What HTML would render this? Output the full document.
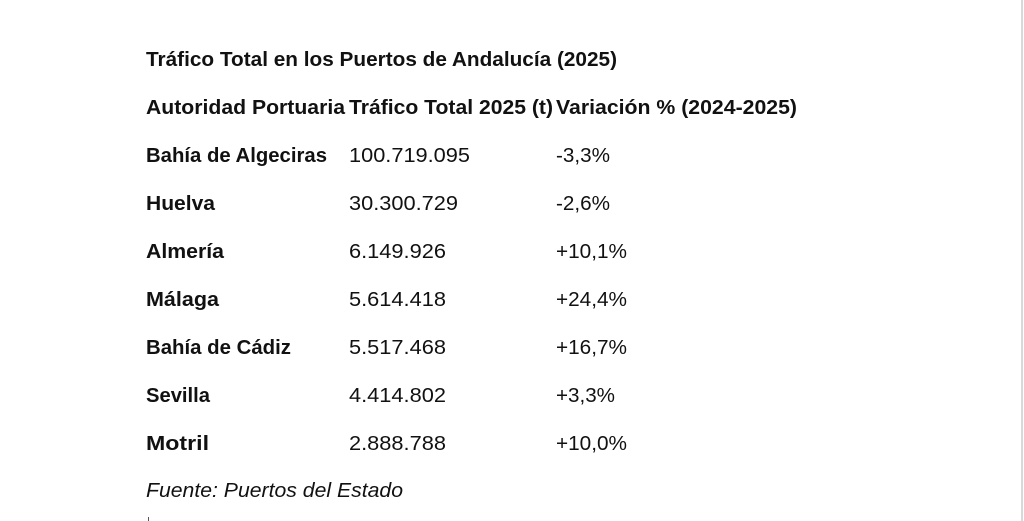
<!DOCTYPE html>
<html><head><meta charset="utf-8"><style>
html,body{margin:0;padding:0;background:#fff;width:1024px;height:521px;overflow:hidden}
svg{display:block}
text{font-family:"Liberation Sans",Arial,sans-serif;font-size:20px;fill:#111}
.b{font-weight:bold}
</style></head><body>
<svg width="1024" height="521" xmlns="http://www.w3.org/2000/svg">
<rect x="1021" y="0" width="2" height="521" fill="#d9d9d9"/>
<g lengthAdjust="spacingAndGlyphs">
<text class="b" x="146" y="66" textLength="471" lengthAdjust="spacingAndGlyphs">Tráfico Total en los Puertos de Andalucía (2025)</text>
<text class="b" x="146" y="114" textLength="199" lengthAdjust="spacingAndGlyphs">Autoridad Portuaria</text>
<text class="b" x="349" y="114" textLength="204" lengthAdjust="spacingAndGlyphs">Tráfico Total 2025 (t)</text>
<text class="b" x="556" y="114" textLength="241" lengthAdjust="spacingAndGlyphs">Variación % (2024-2025)</text>

<text class="b" x="146" y="162" textLength="181" lengthAdjust="spacingAndGlyphs">Bahía de Algeciras</text>
<text x="349" y="162" textLength="121" lengthAdjust="spacingAndGlyphs">100.719.095</text>
<text x="556" y="162" textLength="54" lengthAdjust="spacingAndGlyphs">-3,3%</text>

<text class="b" x="146" y="210" textLength="69" lengthAdjust="spacingAndGlyphs">Huelva</text>
<text x="349" y="210" textLength="109" lengthAdjust="spacingAndGlyphs">30.300.729</text>
<text x="556" y="210" textLength="54" lengthAdjust="spacingAndGlyphs">-2,6%</text>

<text class="b" x="146" y="258" textLength="78" lengthAdjust="spacingAndGlyphs">Almería</text>
<text x="349" y="258" textLength="97" lengthAdjust="spacingAndGlyphs">6.149.926</text>
<text x="556" y="258" textLength="71" lengthAdjust="spacingAndGlyphs">+10,1%</text>

<text class="b" x="146" y="306" textLength="73" lengthAdjust="spacingAndGlyphs">Málaga</text>
<text x="349" y="306" textLength="97" lengthAdjust="spacingAndGlyphs">5.614.418</text>
<text x="556" y="306" textLength="71" lengthAdjust="spacingAndGlyphs">+24,4%</text>

<text class="b" x="146" y="354" textLength="145" lengthAdjust="spacingAndGlyphs">Bahía de Cádiz</text>
<text x="349" y="354" textLength="97" lengthAdjust="spacingAndGlyphs">5.517.468</text>
<text x="556" y="354" textLength="71" lengthAdjust="spacingAndGlyphs">+16,7%</text>

<text class="b" x="146" y="402" textLength="64" lengthAdjust="spacingAndGlyphs">Sevilla</text>
<text x="349" y="402" textLength="97" lengthAdjust="spacingAndGlyphs">4.414.802</text>
<text x="556" y="402" textLength="59" lengthAdjust="spacingAndGlyphs">+3,3%</text>

<text class="b" x="146" y="450" textLength="63" lengthAdjust="spacingAndGlyphs">Motril</text>
<text x="349" y="450" textLength="97" lengthAdjust="spacingAndGlyphs">2.888.788</text>
<text x="556" y="450" textLength="71" lengthAdjust="spacingAndGlyphs">+10,0%</text>

<text x="146" y="497" font-style="italic" textLength="257" lengthAdjust="spacingAndGlyphs">Fuente: Puertos del Estado</text>
</g>
<rect x="148" y="517" width="1" height="4" fill="#555"/>
</svg>
</body></html>
